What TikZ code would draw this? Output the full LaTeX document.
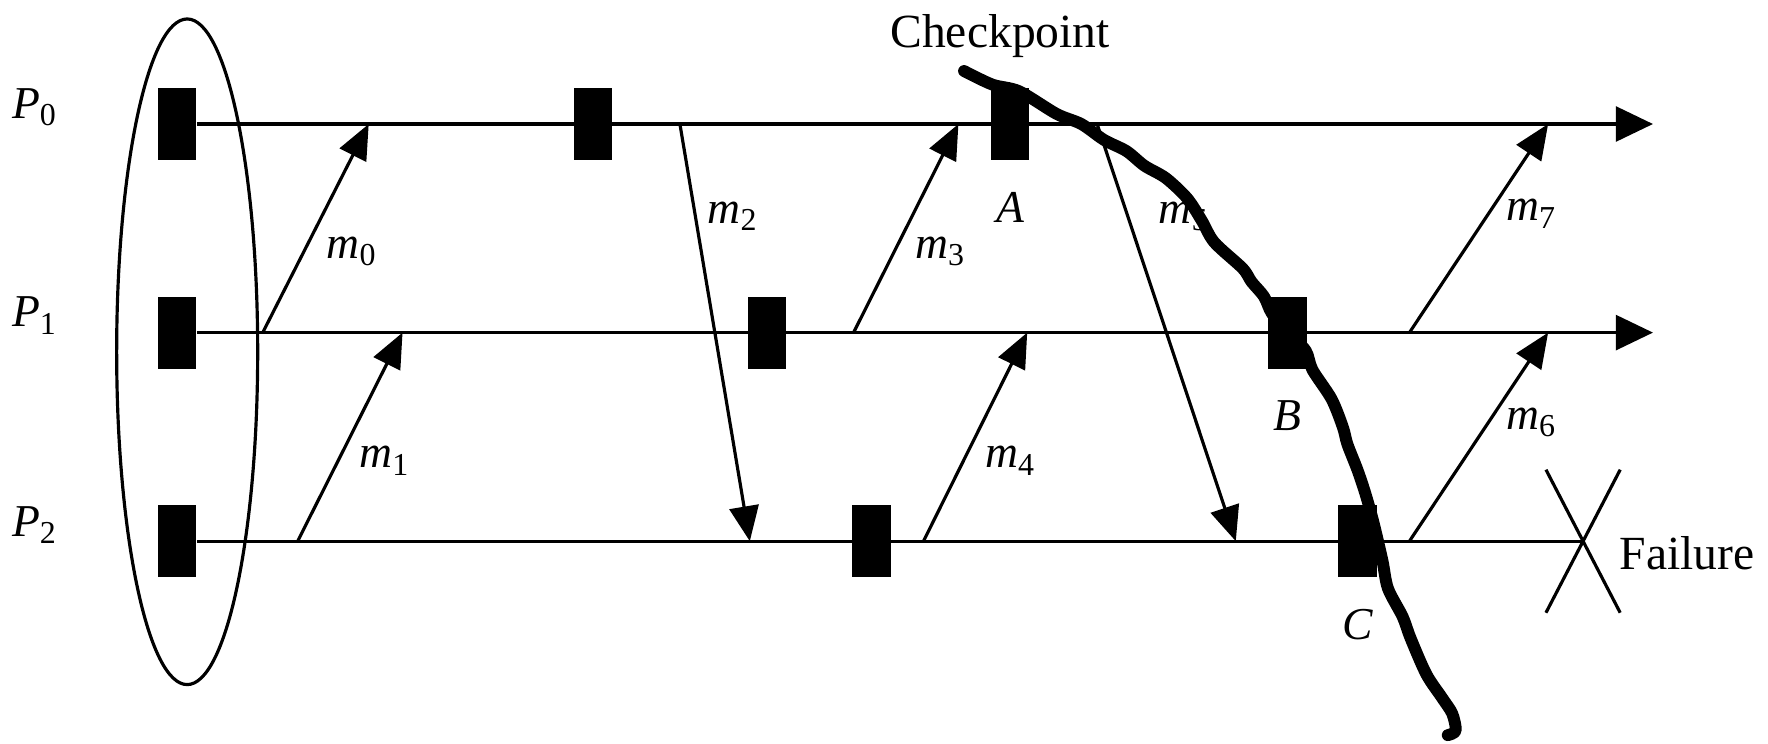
\documentclass[tikz,border=0pt]{standalone}
\usepackage{fontspec}
\setmainfont{Liberation Serif}
\usetikzlibrary{positioning, arrows.meta, shapes.geometric, shapes.misc}
\newcommand{\idx}[2]{#1\textsubscript{\upshape #2}}
\tikzset{
  % checkpoint mark on a time line
  ckpt/.style={rectangle, fill=black, inner sep=0pt,
    minimum width=0.34cm, minimum height=0.64cm},
  % time line of a process
  proc/.style={line width=0.8pt},
  procarr/.style={proc, -{Triangle[length=0.33cm, width=0.31cm]}},
  % message arrow
  msg/.style={line width=0.8pt, -{Triangle[length=0.31cm, width=0.26cm]}},
  lbl/.style={inner sep=0pt, font=\fontsize{11.5pt}{13pt}\selectfont\itshape},
  txt/.style={inner sep=0pt, font=\fontsize{12pt}{14pt}\selectfont},
  failx/.style={cross out, draw, line width=0.8pt, inner sep=0pt,
    minimum width=0.63cm, minimum height=1.24cm},
  cut/.style={line width=3pt, line join=round, line cap=round},
}
\begin{document}
\begin{tikzpicture}[x=0.01cm, y=-0.01cm]
  \useasboundingbox (0,0) rectangle (1568,659);
  % process names
  \node[lbl, anchor=base west] (p0) at (10,105) {\idx{P}{0}};
  \node[lbl, anchor=base west] (p1) at (10,290) {\idx{P}{1}};
  \node[lbl, anchor=base west] (p2) at (10,476) {\idx{P}{2}};
  % initial global state
  \node[ellipse, draw, line width=0.8pt, inner sep=0pt,
    minimum width=1.25cm, minimum height=5.9cm] (init) at (166,312) {};
  % checkpoints
  \node[ckpt] (c00) at (157,110) {};
  \node[ckpt] (c01) at (526,110) {};
  \node[ckpt] (cA)  at (896,110) {};
  \node[ckpt] (c10) at (157,295) {};
  \node[ckpt] (c11) at (680,295) {};
  \node[ckpt] (cB)  at (1142,295) {};
  \node[ckpt] (c20) at (157,480) {};
  \node[ckpt] (c21) at (773,480) {};
  \node[ckpt] (cC)  at (1204,480) {};
  \node[lbl, below=0.27cm of cA] (lA) {A};
  \node[lbl, below=0.27cm of cB] (lB) {B};
  \node[lbl, below=0.27cm of cC] (lC) {C};
  % time lines
  \coordinate (e0) at (1466,110);
  \coordinate (e1) at (1466,295);
  \node[failx] (fail) at (1404,480) {};
  \node[txt, anchor=base west] (failtxt) at (1436,505) {Failure};
  \draw[procarr] (c00.east) -- (e0);
  \draw[procarr] (c10.east) -- (e1);
  \draw[proc] (c20.east) -- (fail.center);
  % message end points
  \coordinate (m0s) at (233,295);  \coordinate (m0e) at (327,110);
  \coordinate (m1s) at (264,480);  \coordinate (m1e) at (357,295);
  \coordinate (m2s) at (603,110);  \coordinate (m2e) at (665,480);
  \coordinate (m3s) at (757,295);  \coordinate (m3e) at (850,110);
  \coordinate (m4s) at (819,480);  \coordinate (m4e) at (911,295);
  \coordinate (m5s) at (973,110);  \coordinate (m5e) at (1096,480);
  \coordinate (m6s) at (1250,480); \coordinate (m6e) at (1373,295);
  \coordinate (m7s) at (1250,295); \coordinate (m7e) at (1373,110);
  \draw[msg] (m0s) -- (m0e);
  \draw[msg] (m1s) -- (m1e);
  \draw[msg] (m2s) -- (m2e);
  \draw[msg] (m3s) -- (m3e);
  \draw[msg] (m4s) -- (m4e);
  \draw[msg] (m5s) -- (m5e);
  \draw[msg] (m6s) -- (m6e);
  \draw[msg] (m7s) -- (m7e);
  % message names
  \node[lbl, anchor=base west] (n0) at (289,229) {\idx{m}{0}};
  \node[lbl, anchor=base west] (n1) at (318,415) {\idx{m}{1}};
  \node[lbl, anchor=base west] (n2) at (627,198) {\idx{m}{2}};
  \node[lbl, anchor=base west] (n3) at (811,229) {\idx{m}{3}};
  \node[lbl, anchor=base west] (n4) at (873,415) {\idx{m}{4}};
  \node[lbl, anchor=base west] (n5) at (1027,198) {\idx{m}{5}};
  \node[lbl, anchor=base west] (n6) at (1335,381) {\idx{m}{6}};
  \node[lbl, anchor=base west] (n7) at (1335,196) {\idx{m}{7}};
  % recovery line
  \node[txt, anchor=base west] (cklbl) at (789,42) {Checkpoint};
  \draw[cut] plot[smooth, tension=0.5] coordinates {
    (855,63) (880,75) (904,81) (937,101) (959,110) (979,124) (999,134)
    (1015,147) (1034,158) (1053,176) (1066,196) (1077,215) (1102,238)
    (1110,250) (1121,263) (1128,278) (1142,294) (1158,311) (1164,328)
    (1181,354) (1191,379) (1195,394) (1204,417) (1211,438) (1218,463)
    (1226,497) (1231,522) (1244,547) (1251,566) (1265,598) (1279,619)
    (1288,633) (1291,648) (1284,652)};
\end{tikzpicture}
\end{document}
